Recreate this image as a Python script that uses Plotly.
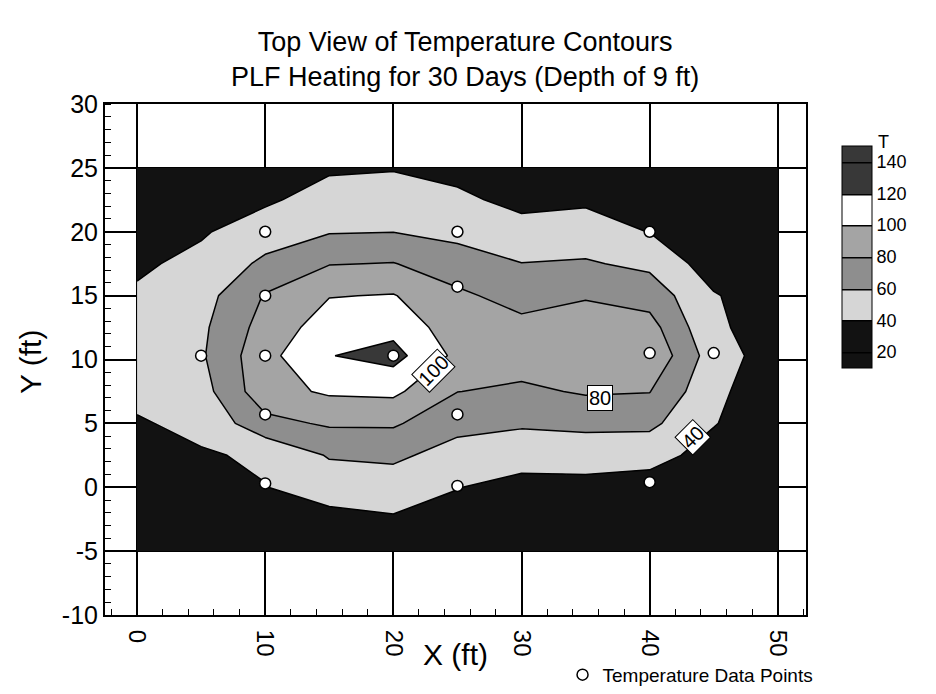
import plotly.graph_objects as go

# ---- data ----
grid_x = [0, 5, 10, 15, 20, 25, 30, 35, 40, 45, 50]
grid_y = [-5, -2.5, 0, 2.5, 5, 7.5, 10.3, 12.5, 15, 17.5, 20, 22.5, 25]

# estimated temperature (T) per column x, listed from y=-5 up to y=25
t_x0 = [22, 27, 31, 35, 38.5, 44, 50, 47, 42.5, 37, 32, 27, 23]
t_x5 = [25, 30, 34, 38.5, 44, 52, 57.5, 56, 52, 45, 38, 31, 26]
t_x10 = [28, 33, 39.6, 42.2, 74, 92.8, 93.8, 88, 81.4, 64.1, 50.1, 37, 31]
t_x15 = [26, 34.7, 48, 61.7, 82.6, 102.8, 119.3, 109.7, 99.2, 79.1, 58.7, 48.1, 37.4]
t_x20 = [27, 38, 50.3, 63.7, 82.6, 104.2, 127, 113.8, 101, 80.8, 59.6, 49.2, 38.8]
t_x25 = [28, 34, 40.5, 52.5, 65.7, 80.3, 95, 89, 84, 68.7, 54.9, 44.3, 33.6]
t_x30 = [24, 29, 34.5, 47, 62.7, 76.2, 90, 86, 72, 60.4, 48, 34, 27]
t_x35 = [24, 29, 35, 47.5, 65, 82, 91, 89, 78.5, 62, 49, 37, 29]
t_x40 = [24, 28, 32, 46.7, 64.5, 80.6, 97, 87.7, 71.6, 55.5, 39.5, 31, 25]
t_x45 = [22, 25, 28, 33, 41, 44, 49.4, 42.5, 41.5, 30, 28, 25, 22]
t_x50 = [21, 22, 24, 26, 27, 28.6, 29.8, 33, 28, 25, 23, 21.5, 21]

columns = [t_x0, t_x5, t_x10, t_x15, t_x20, t_x25, t_x30, t_x35, t_x40, t_x45, t_x50]

# temperature data points
pts_x = [10, 25, 40, 10, 25, 5, 10, 20, 40, 45, 10, 25, 10, 25, 40]
pts_y = [20, 20, 20, 15, 15.7, 10.3, 10.3, 10.3, 10.5, 10.5, 5.7, 5.7, 0.3, 0.1, 0.4]

# contour labels shown on the chart
label_vals = ["100", "80", "40"]

level_ticks = [20, 40, 60, 80, 100, 120, 140]
x_ticks = [0, 10, 20, 30, 40, 50]
y_ticks = [-10, -5, 0, 5, 10, 15, 20, 25, 30]

# ---- figure ----
z = [[col[j] for col in columns] for j in range(len(grid_y))]

band_colors = ["#121212", "#121212", "#d6d6d6", "#8e8e8e", "#a4a4a4",
               "#ffffff", "#383838", "#383838"]
n = len(band_colors)
cscale = []
for k, c in enumerate(band_colors):
    lo = max(0.0, (k - 0.5) / (n - 1))
    hi = min(1.0, (k + 0.5) / (n - 1))
    cscale.append([lo, c])
    cscale.append([hi, c])

FONT = "Liberation Sans, Arial, Helvetica, sans-serif"

fig = go.Figure()
fig.add_trace(go.Contour(
    x=grid_x, y=grid_y, z=z,
    colorscale=cscale,
    contours=dict(start=20, end=140, size=20, coloring="fill", showlines=True),
    line=dict(color="black", width=1.5, smoothing=0),
    showlegend=False,
    hoverinfo="skip",
    colorbar=dict(
        tickvals=level_ticks, ticktext=[str(v) for v in level_ticks],
        ticks="", tickfont=dict(size=18, family=FONT, color="black"),
        thickness=30, len=222, lenmode="pixels",
        x=1.052, xanchor="left", xpad=0, y=0.701, yanchor="middle", ypad=0,
        outlinecolor="black", outlinewidth=1,
    ),
))

fig.add_trace(go.Scatter(
    x=pts_x, y=pts_y, mode="markers",
    marker=dict(symbol="circle", size=11, color="white",
                line=dict(color="black", width=1.5)),
    name="Temperature Data Points",
    showlegend=True,
    hoverinfo="skip",
))

label_pos = [(23.1, 9.1, -45), (36.1, 7.0, 0), (43.4, 3.9, -45)]
for txt, (lx, ly, ang) in zip(label_vals, label_pos):
    fig.add_annotation(x=lx, y=ly, text=txt, showarrow=False, textangle=ang,
                       font=dict(size=20, family=FONT, color="black"),
                       bgcolor="white", bordercolor="black", borderwidth=1, borderpad=1)

# colorbar title "T" and axis titles
fig.add_annotation(x=1.111, y=0.9256, xref="paper", yref="paper",
                   text="T", showarrow=False, xanchor="center", yanchor="middle",
                   font=dict(size=18, family=FONT, color="black"))
fig.add_annotation(x=0.5, y=-0.078, xref="paper", yref="paper", text="X (ft)", showarrow=False,
                   font=dict(size=30, family=FONT, color="black"), yanchor="middle")
fig.add_annotation(x=-0.107, y=0.495, xref="paper", yref="paper", text="Y (ft)", showarrow=False,
                   textangle=-90, font=dict(size=30, family=FONT, color="black"), xanchor="center")

fig.update_layout(
    width=936, height=694,
    margin=dict(l=105, r=130, t=104, b=79, autoexpand=False),
    paper_bgcolor="white", plot_bgcolor="white",
    font=dict(family=FONT, color="black"),
    title=dict(text="Top View of Temperature Contours<br>PLF Heating for 30 Days (Depth of 9 ft)",
               x=0.497, xanchor="center", yref="container", y=0.926, yanchor="top",
               font=dict(size=27, family=FONT, color="black")),
    legend=dict(x=0.601, y=0.055, xref="container", yref="container",
                xanchor="left", yanchor="top",
                font=dict(size=19, family=FONT, color="black"),
                bgcolor="rgba(0,0,0,0)"),
    xaxis=dict(range=[-2.5, 52.2], tickvals=x_ticks, ticktext=[str(v) for v in x_ticks],
               tickangle=90, ticklabelstandoff=8, automargin=False,
               showgrid=True, gridcolor="black", gridwidth=1.5,
               showline=True, linecolor="black", linewidth=2, mirror=True,
               ticks="", zeroline=False,
               tickfont=dict(size=24, family=FONT, color="black"),
               minor=dict(dtick=2, tick0=0, ticks="inside", ticklen=6, tickcolor="black",
                          tickwidth=1, showgrid=False)),
    yaxis=dict(range=[-10, 30], tickvals=y_ticks, ticktext=[str(v) for v in y_ticks],
               automargin=False,
               showgrid=True, gridcolor="black", gridwidth=1.5,
               showline=True, linecolor="black", linewidth=2, mirror=True,
               ticks="", zeroline=False,
               tickfont=dict(size=25, family=FONT, color="black"),
               minor=dict(dtick=1, tick0=0, ticks="inside", ticklen=6, tickcolor="black",
                          tickwidth=1, showgrid=False)),
)

fig.write_html("out.html")
